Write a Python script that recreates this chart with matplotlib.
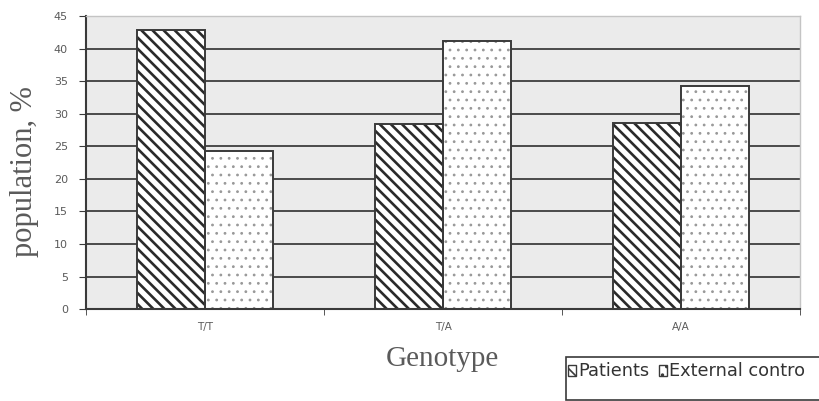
import numpy as np
import matplotlib
matplotlib.use("Agg")
import matplotlib.pyplot as plt
from matplotlib.patches import Rectangle

# Data
genotypes = ["T/T", "T/A", "A/A"]
patients = [42.9, 28.5, 28.6]
external_control = [24.3, 41.2, 34.3]
y_ticks = [0, 5, 10, 15, 20, 25, 30, 35, 40, 45]
series_names = ["Patients", "External contro"]

GRID = "#4a4a4a"
EDGE = "#3a3a3a"
BG = "#ebebeb"
TXT = "#5a5a5a"

fig = plt.figure(figsize=(8.2, 4.01), dpi=100)
ax = fig.add_axes([0.105, 0.229, 0.871, 0.731])
ax.set_facecolor(BG)

x = np.arange(len(genotypes))
w = 0.286

# gridlines
for t in y_ticks[1:-1]:
    ax.axhline(t, color=GRID, linewidth=1.4, zorder=1)

# patients: thick diagonal stripes
with plt.rc_context({"hatch.linewidth": 1.9}):
    ax.bar(x - w / 2, patients, w, color="white", edgecolor="#2a2a2a",
           hatch="\\\\\\", linewidth=0, zorder=2)
ax.bar(x - w / 2, patients, w, fill=False, edgecolor=EDGE, linewidth=1.4, zorder=3)

# external control: sparse grey dots
with plt.rc_context({"hatch.linewidth": 0.8}):
    ax.bar(x + w / 2, external_control, w, color="white", edgecolor="#999999",
           hatch="..", linewidth=0, zorder=2)
ax.bar(x + w / 2, external_control, w, fill=False, edgecolor=EDGE, linewidth=1.4, zorder=3)

ax.set_xlim(-0.5, len(genotypes) - 0.5)
ax.set_ylim(0, 45)
ax.set_yticks(y_ticks)
ax.set_yticklabels([str(t) for t in y_ticks], fontsize=8, color=TXT)
ax.set_xticks(x)
ax.set_xticklabels(genotypes, fontsize=7.5, color=TXT)
ax.tick_params(axis="x", length=0, pad=9)
ax.set_xticks(np.arange(len(genotypes) + 1) - 0.5, minor=True)
ax.tick_params(axis="x", which="minor", length=4, color=EDGE, direction="out")
ax.tick_params(axis="y", length=5, color=EDGE, direction="out", pad=8)

for side in ["top", "right"]:
    ax.spines[side].set_color("#c4c4c4")
    ax.spines[side].set_linewidth(1.0)
for side in ["left", "bottom"]:
    ax.spines[side].set_color(EDGE)
    ax.spines[side].set_linewidth(1.5)

ax.set_xlabel("Genotype", family="Liberation Serif", fontsize=21, color=TXT)
ax.xaxis.set_label_coords(0.499, -0.125)
ax.set_ylabel("population, %", family="Liberation Serif", fontsize=22, color=TXT)
ax.yaxis.set_label_coords(-0.066, 0.47)

# legend box, running off the right edge as in the original
fig.patches.append(Rectangle((566 / 820, 1 - 400 / 401), 0.4, 43 / 401,
                             transform=fig.transFigure, facecolor="white",
                             edgecolor=EDGE, linewidth=1.2, zorder=5))
handle_x = [568 / 820, 659 / 820]
text_x = [578 / 820, 669 / 820]
hatches = ["\\\\\\", ".."]
for hx, tx, h, name in zip(handle_x, text_x, hatches, series_names):
    with plt.rc_context({"hatch.linewidth": 1.2}):
        fig.patches.append(Rectangle((hx, 1 - 376 / 401), 8 / 820, 11 / 401,
                                     transform=fig.transFigure, facecolor="white",
                                     edgecolor=EDGE, hatch=h, linewidth=1.0, zorder=6))
    fig.text(tx, 1 - 371 / 401, name, family="DejaVu Sans", fontsize=12.8,
             color="#333333", va="center", ha="left", zorder=7)

plt.savefig("out.png", dpi=100)
